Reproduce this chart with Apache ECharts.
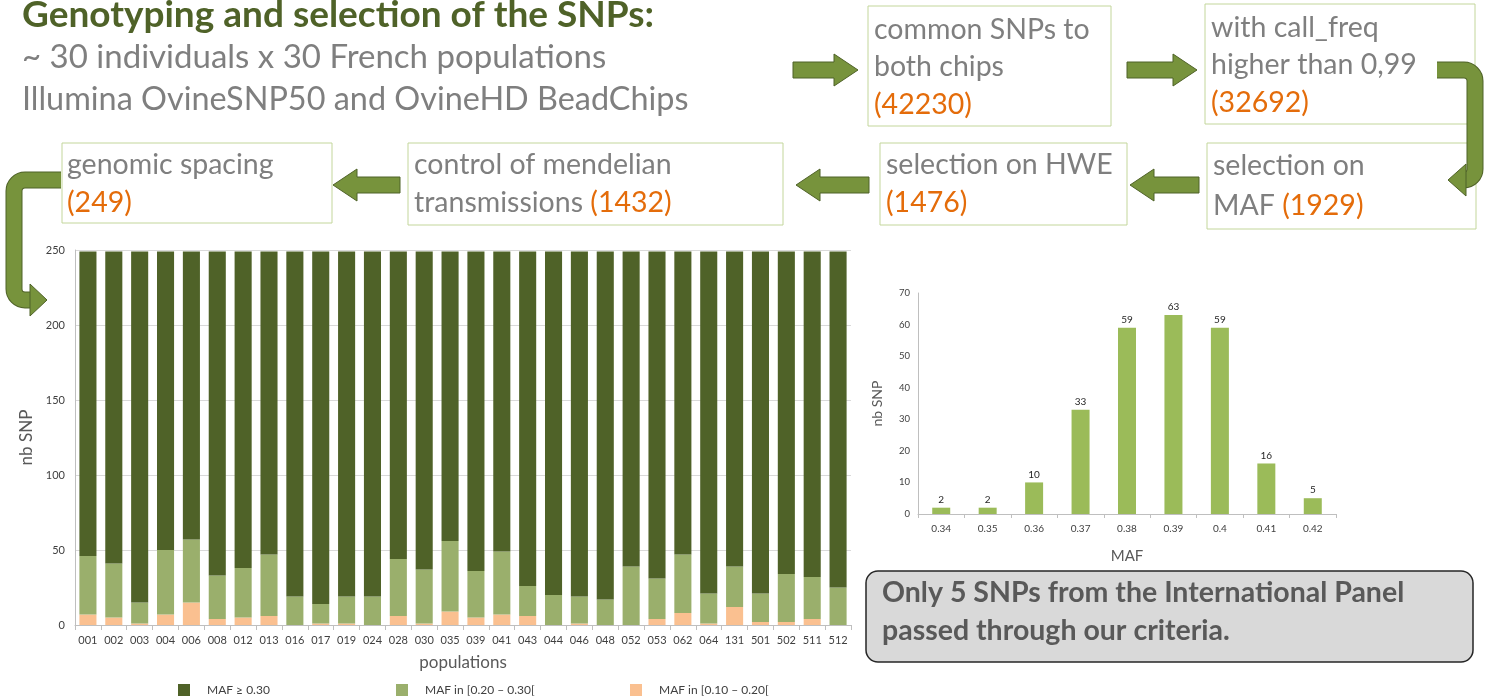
<!DOCTYPE html>
<html>
<head>
<meta charset="utf-8">
<script src="https://cdn.jsdelivr.net/npm/echarts@6/dist/echarts.min.js"></script>
<style>
  html, body { margin: 0; padding: 0; background: #fff; }
  #main { width: 1494px; height: 697px; }
</style>
</head>
<body>
<div id="main"></div>
<script>
// stacked chart: SNPs per population by MAF class
var populations = ['001','002','003','004','006','008','012','013','016','017','019','024','028','030','035',
  '039','041','043','044','046','048','052','053','062','064','131','501','502','511','512'];
var mafLow = [7,5,1,7,15,4,5,6,0,1,1,0,6,1,9,5,7,6,0,1,0,0,4,8,1,12,2,2,4,0];
var mafMid = [39,36,14,43,42,29,33,41,19,13,18,19,38,36,47,31,42,20,20,18,17,39,27,39,20,27,19,32,28,25];
var mafHigh = [203,208,234,199,192,216,211,202,230,235,230,230,205,212,193,213,200,223,229,230,232,210,218,202,228,210,228,215,217,224];

// histogram of MAF for the 249 SNPs
var mafBins = ['0.34','0.35','0.36','0.37','0.38','0.39','0.4','0.41','0.42'];
var mafCounts = [2,2,10,33,59,63,59,16,5];

var seriesNames = ['MAF \u2265 0.30', 'MAF in [0.20 \u2013 0.30[', 'MAF in [0.10 \u2013 0.20['];

var FONT = 'Lato';
var grey = '#7f7f7f';
var orange = '#e46c0a';
var boxLine = '#c3d69b';
var arrowFill = '#77933c';
var arrowDark = '#4f6228';

var chart = echarts.init(document.getElementById('main'));

function box(x, y, w, h) {
  return { type: 'rect', shape: { x: x, y: y, width: w, height: h },
    style: { fill: '#fff', stroke: boxLine, lineWidth: 1 }, z: 1 };
}
function boxText(x, y, txt, lh) {
  lh = lh || 38;
  return { type: 'text', x: x, y: y, z: 2,
    style: { text: txt, fill: grey, fontFamily: FONT, fontSize: 28.5, lineHeight: lh, verticalAlign: 'top',
      rich: { o: { fill: orange, fontFamily: FONT, fontSize: 28.5, lineHeight: lh } } } };
}
function hArrow(x0, x1, cy, dir) {
  // dir 1 = points right, -1 = points left
  var head = 24, half = 8, hh = 16;
  var pts;
  if (dir > 0) {
    pts = [[x0, cy - half], [x1 - head, cy - half], [x1 - head, cy - hh], [x1, cy],
      [x1 - head, cy + hh], [x1 - head, cy + half], [x0, cy + half]];
  } else {
    pts = [[x1, cy - half], [x0 + head, cy - half], [x0 + head, cy - hh], [x0, cy],
      [x0 + head, cy + hh], [x0 + head, cy + half], [x1, cy + half]];
  }
  return { type: 'polygon', shape: { points: pts },
    style: { fill: arrowFill, stroke: arrowDark, lineWidth: 1 }, z: 1 };
}
// bent arrow body made of lines and quarter arcs, drawn twice for the dark rim
function bend(parts, z) {
  var out = [];
  [[arrowDark, 17], [arrowFill, 15]].forEach(function (s) {
    parts.forEach(function (p) {
      var el;
      if (p[0] === 'l') {
        el = { type: 'line', shape: { x1: p[1], y1: p[2], x2: p[3], y2: p[4] } };
      } else {
        el = { type: 'arc', shape: { cx: p[1], cy: p[2], r: p[3], startAngle: p[4], endAngle: p[5], clockwise: true } };
      }
      el.style = { stroke: s[0], lineWidth: s[1], fill: null };
      el.z = z;
      out.push(el);
    });
  });
  return out;
}
var PI = Math.PI;

var graphics = [
  { type: 'text', x: 22, y: 15, style: { text: 'Genotyping and selection of the SNPs:', fill: '#4f6228',
      fontFamily: FONT, fontWeight: 'bold', fontSize: 37, verticalAlign: 'middle' } },
  { type: 'text', x: 22, y: 57, style: { text: '~ 30 individuals x 30 French populations', fill: grey,
      fontFamily: FONT, fontSize: 33, verticalAlign: 'middle' } },
  { type: 'text', x: 22, y: 100, style: { text: 'Illumina OvineSNP50 and OvineHD BeadChips', fill: grey,
      fontFamily: FONT, fontSize: 32.4, verticalAlign: 'middle' } },

  box(868, 6, 243, 120), boxText(874, 11, 'common SNPs to\nboth chips\n{o|(42230)}', 37.5),
  box(1205, 4, 270, 120), boxText(1211, 9, 'with call_freq\nhigher than 0,99\n{o|(32692)}', 37.5),
  box(1207, 143, 269, 86), boxText(1213, 146, 'selection on\nMAF {o|(1929)}', 40),
  box(880, 143, 247, 82), boxText(886, 146, 'selection on HWE\n{o|(1476)}'),
  box(408, 143, 375, 82), boxText(414, 146, 'control of mendelian\ntransmissions {o|(1432)}'),
  box(62, 143, 270, 80), boxText(67, 146, 'genomic spacing\n{o|(249)}'),

  hArrow(793, 858, 70, 1),
  hArrow(1127, 1197, 70, 1),
  hArrow(1130, 1199, 185, -1),
  hArrow(796, 869, 185, -1),
  hArrow(333, 400, 185, -1),

  // note box
  { type: 'rect', shape: { x: 866, y: 571, width: 607, height: 91, r: 12 },
    style: { fill: '#d9d9d9', stroke: '#262626', lineWidth: 1.5 } },
  { type: 'text', x: 882, y: 574, style: { text: 'Only 5 SNPs from the International Panel\npassed through our criteria.',
      fill: '#595959', fontFamily: FONT, fontWeight: 'bold', fontSize: 28.5, lineHeight: 38, verticalAlign: 'top' } }
];

// bent arrow top right
graphics = graphics.concat(bend([
  ['l', 1437, 70, 1464, 70],
  ['a', 1464, 81, 11, -PI / 2, 0],
  ['l', 1475, 81, 1475, 169],
  ['a', 1464, 169, 11, 0, PI / 2],
  ['l', 1464, 180, 1462, 180]
], 1));
graphics.push({ type: 'polygon', z: 1, shape: { points: [[1448, 180], [1466, 164], [1466, 196]] },
  style: { fill: arrowFill, stroke: arrowDark, lineWidth: 1 } });

// bent arrow on the left
graphics = graphics.concat(bend([
  ['l', 61, 180, 25, 180],
  ['a', 25, 191, 11, PI, 1.5 * PI],
  ['l', 14, 191, 14, 289],
  ['a', 25, 289, 11, PI / 2, PI],
  ['l', 25, 300, 32, 300]
], 0));
graphics.push({ type: 'polygon', z: 0, shape: { points: [[47, 300], [30, 284], [30, 316]] },
  style: { fill: arrowFill, stroke: arrowDark, lineWidth: 1 } });

function legendAt(left, name) {
  return { left: left, top: 679, itemWidth: 12, itemHeight: 12, icon: 'rect', itemGap: 0,
    data: [name], selectedMode: false,
    textStyle: { fontFamily: FONT, fontSize: 12, color: '#404040', padding: [0, 0, 0, 12] } };
}

var option = {
  animation: false,
  backgroundColor: '#fff',
  textStyle: { fontFamily: FONT },
  graphic: graphics,
  legend: [legendAt(173, seriesNames[0]), legendAt(391, seriesNames[1]), legendAt(625, seriesNames[2])],
  grid: [
    { left: 75, top: 250, width: 776, height: 375 },
    { left: 918, top: 293, width: 418, height: 221 }
  ],
  xAxis: [
    { type: 'category', gridIndex: 0, data: populations,
      name: 'populations', nameLocation: 'middle', nameGap: 29,
      nameTextStyle: { fontFamily: FONT, fontSize: 17, color: '#595959' },
      axisLine: { lineStyle: { color: '#bfbfbf' } },
      axisTick: { show: true, length: 5, lineStyle: { color: '#bfbfbf' } },
      axisLabel: { fontFamily: FONT, fontSize: 11, color: '#404040', interval: 0, margin: 10 } },
    { type: 'category', gridIndex: 1, data: mafBins,
      name: 'MAF', nameLocation: 'middle', nameGap: 35,
      nameTextStyle: { fontFamily: FONT, fontSize: 15, color: '#595959' },
      axisLine: { lineStyle: { color: '#bfbfbf' } },
      axisTick: { show: true, length: 4, lineStyle: { color: '#bfbfbf' } },
      axisLabel: { fontFamily: FONT, fontSize: 10, color: '#404040', interval: 0, margin: 10 } }
  ],
  yAxis: [
    { type: 'value', gridIndex: 0, min: 0, max: 250, interval: 50,
      name: 'nb SNP', nameLocation: 'middle', nameGap: 38,
      nameTextStyle: { fontFamily: FONT, fontSize: 17, color: '#595959' },
      axisLine: { show: true, lineStyle: { color: '#bfbfbf' } },
      axisTick: { show: false },
      axisLabel: { fontFamily: FONT, fontSize: 11, color: '#404040', margin: 10 },
      splitLine: { lineStyle: { color: '#d9d9d9' } } },
    { type: 'value', gridIndex: 1, min: 0, max: 70, interval: 10,
      name: 'nb SNP', nameLocation: 'middle', nameGap: 34,
      nameTextStyle: { fontFamily: FONT, fontSize: 14, color: '#595959' },
      axisLine: { show: true, lineStyle: { color: '#bfbfbf' } },
      axisTick: { show: false },
      axisLabel: { fontFamily: FONT, fontSize: 9.5, color: '#404040', margin: 8 },
      splitLine: { show: false } }
  ],
  series: [
    { name: seriesNames[2], type: 'bar', stack: 'maf', xAxisIndex: 0, yAxisIndex: 0,
      data: mafLow, barWidth: '66%', itemStyle: { color: '#fac090' } },
    { name: seriesNames[1], type: 'bar', stack: 'maf', xAxisIndex: 0, yAxisIndex: 0,
      data: mafMid, barWidth: '66%', itemStyle: { color: '#9aaf6c' } },
    { name: seriesNames[0], type: 'bar', stack: 'maf', xAxisIndex: 0, yAxisIndex: 0,
      data: mafHigh, barWidth: '66%', itemStyle: { color: '#4f6228' } },
    { name: 'hist', type: 'bar', xAxisIndex: 1, yAxisIndex: 1, data: mafCounts, barWidth: 18,
      itemStyle: { color: '#9bbb59' },
      label: { show: true, position: 'top', distance: 3, fontFamily: FONT, fontSize: 10, color: '#262626' } }
  ]
};

chart.setOption(option);
</script>
</body>
</html>
